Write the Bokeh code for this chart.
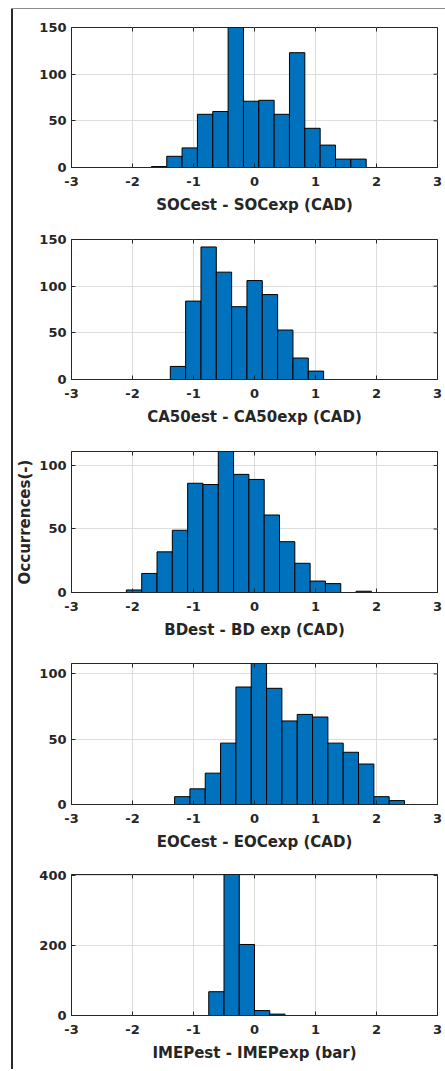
import numpy as np
from bokeh.plotting import figure
from bokeh.layouts import column, row
from bokeh.models import Range1d, FixedTicker, Div
from bokeh.embed import file_html
from bokeh.resources import INLINE

# ---- data ----
soc_counts = [1, 12, 21, 57, 60, 150, 71, 72, 57, 123, 42, 24, 9, 9]
ca50_counts = [14, 84, 142, 115, 78, 106, 91, 53, 23, 9]
bd_counts = [2, 15, 32, 49, 86, 85, 111, 93, 89, 61, 40, 23, 9, 7, 0, 1]
eoc_counts = [6, 12, 24, 47, 90, 108, 89, 64, 69, 67, 47, 40, 31, 6, 3]
imep_counts = [68, 403, 203, 14, 4]

bin_start = [-1.69, -1.38, -2.10, -1.31, -0.75]
bin_width = [0.2515, 0.2513, 0.251, 0.2513, 0.25]

xlabels = ["SOCest - SOCexp (CAD)", "CA50est - CA50exp (CAD)",
           "BDest - BD exp (CAD)", "EOCest - EOCexp (CAD)",
           "IMEPest - IMEPexp (bar)"]
ylabels = [None, None, "Occurrences(-)", None, None]
ylims = [150, 150, 111, 108, 403]
yticks = [[0, 50, 100, 150], [0, 50, 100, 150], [0, 50, 100], [0, 50, 100], [0, 200, 400]]
xticks = [-3, -2, -1, 0, 1, 2, 3]
xtick_labels = ["-3", "-2", "-1", "0", "1", "2", "3"]
XMIN, XMAX = -3, 3

all_counts = [soc_counts, ca50_counts, bd_counts, eoc_counts, imep_counts]

# ---- layout geometry ----
fig_heights = [211, 212, 212, 212, 213]
tops = [18, 19, 19, 19, 18]
frame_h = [140, 140, 141, 141, 141]
LEFT, FRAME_W, RIGHT = 52, 372, 8
TICK = 4  # px

FONT = "DejaVu Sans"
TXT = "#262626"
BAR = "#0072BD"
GRID = "#dedede"

figs = []
for i in range(5):
    counts = all_counts[i]
    n = len(counts)
    edges = bin_start[i] + bin_width[i] * np.arange(n + 1)
    h = fig_heights[i]
    p = figure(width=LEFT + FRAME_W + RIGHT, height=h,
               x_range=Range1d(XMIN, XMAX), y_range=Range1d(0, ylims[i]),
               output_backend="svg", toolbar_location=None,
               min_border_left=LEFT, min_border_right=RIGHT,
               min_border_top=tops[i], min_border_bottom=h - tops[i] - frame_h[i])
    p.quad(left=edges[:-1], right=edges[1:], top=counts, bottom=0,
           fill_color=BAR, line_color="black", line_width=1)

    # inward tick marks on the top and right edges (box on)
    dy = TICK * ylims[i] / frame_h[i]
    dx = TICK * (XMAX - XMIN) / FRAME_W
    p.segment(x0=xticks, x1=xticks, y0=[ylims[i]] * len(xticks),
              y1=[ylims[i] - dy] * len(xticks), line_color=TXT, line_width=1)
    p.segment(x0=[XMAX] * len(yticks[i]), x1=[XMAX - dx] * len(yticks[i]),
              y0=yticks[i], y1=yticks[i], line_color=TXT, line_width=1)

    p.outline_line_color = TXT
    p.outline_line_width = 1
    p.background_fill_color = "white"
    p.border_fill_color = "white"

    p.xaxis.ticker = FixedTicker(ticks=xticks)
    p.xaxis.major_label_overrides = {t: l for t, l in zip(xticks, xtick_labels)}
    p.yaxis.ticker = FixedTicker(ticks=yticks[i])
    p.xgrid.ticker = FixedTicker(ticks=xticks)
    p.ygrid.ticker = FixedTicker(ticks=yticks[i])
    p.grid.grid_line_color = GRID
    p.grid.grid_line_width = 1

    for ax in (p.xaxis[0], p.yaxis[0]):
        ax.major_tick_in = TICK
        ax.major_tick_out = 0
        ax.minor_tick_in = 0
        ax.minor_tick_out = 0
        ax.axis_line_color = TXT
        ax.major_tick_line_color = TXT
        ax.major_label_text_font = FONT
        ax.major_label_text_font_style = "bold"
        ax.major_label_text_font_size = "13px"
        ax.major_label_text_color = TXT
        ax.axis_label_text_font = FONT
        ax.axis_label_text_font_style = "bold"
        ax.axis_label_text_font_size = "15px"
        ax.axis_label_text_color = TXT

    p.xaxis.major_label_standoff = 9
    p.xaxis.axis_label = xlabels[i]
    p.xaxis.axis_label_standoff = 7
    p.yaxis.major_label_standoff = 5
    if ylabels[i]:
        p.yaxis.axis_label = ylabels[i]
        p.yaxis.axis_label_standoff = 2

    figs.append(p)

top_line = Div(text="", width=434, height=1, margin=(8, 0, 0, 11),
               styles={"background-color": "#8c8c8c"})
left_line = Div(text="", width=2, height=1060, margin=(0, 0, 0, 11),
                styles={"background-color": "#2a2a2a"})
layout = column(top_line, row(left_line, column(*figs, spacing=0), spacing=0), spacing=0)

open("out.html", "w").write(file_html(layout, INLINE))
